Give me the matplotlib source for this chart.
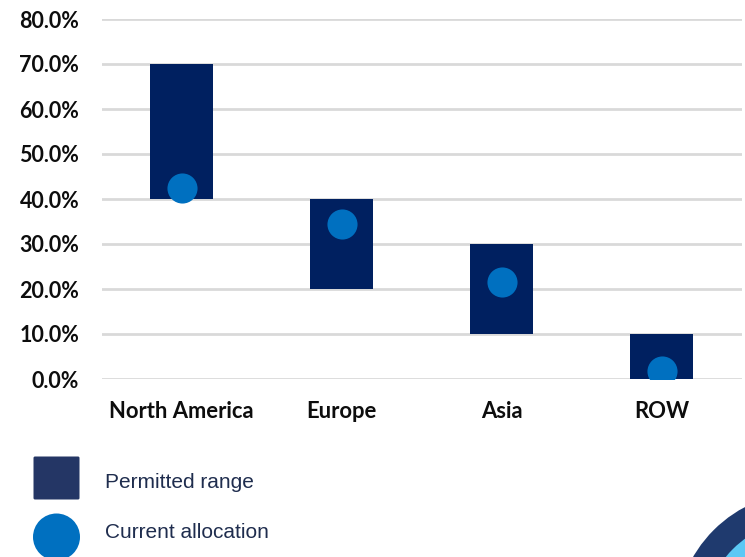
import matplotlib
matplotlib.use('Agg')
import matplotlib.pyplot as plt
from matplotlib.patches import FancyBboxPatch, Circle

regions = ['North America', 'Europe', 'Asia', 'ROW']
range_low = [40.0, 20.0, 10.0, 0.0]
range_high = [70.0, 40.0, 30.0, 10.0]
current = [42.5, 34.5, 21.5, 1.7]
yticks = [0, 10, 20, 30, 40, 50, 60, 70, 80]

navy = '#002060'
blue = '#0070C0'

W, H = 745, 557
fig = plt.figure(figsize=(W / 100, H / 100), dpi=100)

ax = fig.add_axes([101.5 / W, (H - 379) / H, 640 / W, 360 / H])
x = range(len(regions))
heights = [h - l for l, h in zip(range_low, range_high)]
ax.bar(x, heights, bottom=range_low, width=0.39, color=navy, zorder=2)
ax.scatter(x, current, s=470, color=blue, zorder=3, linewidths=0)

ax.set_xlim(-0.5, len(regions) - 0.5)
ax.set_ylim(0, 80)
ax.set_yticks(yticks)
ax.set_yticklabels([f'{v:.1f}%' for v in yticks])
ax.set_xticks(list(x))
ax.set_xticklabels(regions)
ax.yaxis.grid(True, color='#d9d9d9', linewidth=2, zorder=0)
ax.set_axisbelow(True)
for s in ax.spines.values():
    s.set_visible(False)
ax.tick_params(axis='both', length=0)
ax.tick_params(axis='y', pad=16, labelsize=15.5)
ax.tick_params(axis='x', pad=16, labelsize=15.8)
for lab in ax.get_xticklabels() + ax.get_yticklabels():
    lab.set_fontweight('bold')
    lab.set_family('Lato')
    lab.set_color('#0d0d0d')

# legend and corner decoration in pixel space
ov = fig.add_axes([0, 0, 1, 1])
ov.set_xlim(0, W)
ov.set_ylim(H, 0)
ov.axis('off')
ov.add_patch(FancyBboxPatch((35, 458), 43, 40, boxstyle='round,pad=1.5',
                            color='#243665', linewidth=0))
ov.add_patch(Circle((56.5, 537), 23.5, color=blue, linewidth=0))
ov.text(105, 482, 'Permitted range', fontsize=15, color='#1f2d4e',
        family='Liberation Sans', va='center')
ov.text(105, 533, 'Current allocation', fontsize=15, color='#1f2d4e',
        family='Liberation Sans', va='center')
ov.add_patch(Circle((805.6, 622), 130, color='#1f3a6e', linewidth=0))
ov.add_patch(Circle((805.6, 622), 103, color='#5bc8f5', linewidth=0))

fig.savefig('out.png', dpi=100)
